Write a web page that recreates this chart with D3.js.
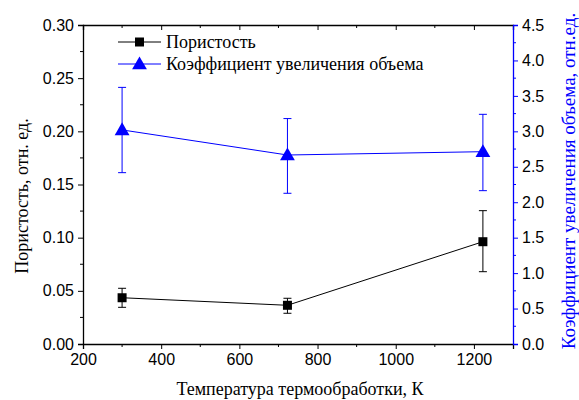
<!DOCTYPE html>
<html><head><meta charset="utf-8">
<script src="https://cdn.jsdelivr.net/npm/d3@7"></script>
<style>body{margin:0;background:#fff}</style>
</head><body>
<svg id="c" width="579" height="400"></svg>
<script>
const temps = [300, 723, 1223];
const porosity = [0.0435, 0.0364, 0.0962];
const porosityErrLow = [0.0345, 0.0289, 0.0680];
const porosityErrHigh = [0.0524, 0.0430, 0.1254];
const volume = [3.02, 2.666, 2.713];
const volumeErrLow = [2.417, 2.126, 2.163];
const volumeErrHigh = [3.62, 3.18, 3.24];
const xTicks = [200, 400, 600, 800, 1000, 1200];
const yLeftTicks = [0, 0.05, 0.10, 0.15, 0.20, 0.25, 0.30];
const yRightTicks = [0, 0.5, 1, 1.5, 2, 2.5, 3, 3.5, 4, 4.5];
const legendLabels = ["Пористость", "Коэффициент увеличения объема"];
const xTitle = "Температура термообработки, К";
const yLeftTitle = "Пористость, отн. ед.";
const yRightTitle = "Коэффициент увеличения объема, отн.ед.";

const svg = d3.select("#c");
const L = 83, R = 513, T = 25, B = 344;
const blue = "#0000ff";
const x = d3.scaleLinear().domain([200, 1300]).range([L, R]);
const yL = d3.scaleLinear().domain([0, 0.30]).range([B, T]);
const yR = d3.scaleLinear().domain([0, 4.5]).range([B, T]);
const sans = "'Liberation Sans', Arial, sans-serif";
const serif = "'Liberation Serif', 'Times New Roman', serif";

function styleAxis(g, color, fs) {
  g.selectAll("path").attr("stroke", color).attr("stroke-width", 1.3);
  g.selectAll("line").attr("stroke", color).attr("stroke-width", 1);
  g.selectAll("text").attr("fill", color).attr("font-family", sans).attr("font-size", fs);
}
const xMinor = d3.range(300, 1300, 200);
// bottom axis
const gx = svg.append("g").attr("transform", `translate(0,${B})`)
  .call(d3.axisBottom(x).tickValues(xTicks).tickSize(5).tickPadding(5).tickFormat(d3.format("d")));
styleAxis(gx, "#000", 16);
gx.selectAll(".minor").data(xMinor).enter().append("line").attr("class","minor")
  .attr("x1", d=>x(d)).attr("x2", d=>x(d)).attr("y1", 0).attr("y2", 3).attr("stroke", "#000");
// top axis
const gt = svg.append("g").attr("transform", `translate(0,${T})`)
  .call(d3.axisTop(x).tickValues(xTicks).tickSize(-5).tickFormat(""));
styleAxis(gt, "#000", 16);
gt.selectAll(".minor").data(xMinor).enter().append("line").attr("class","minor")
  .attr("x1", d=>x(d)).attr("x2", d=>x(d)).attr("y1", 0).attr("y2", 3).attr("stroke", "#000");
// left axis
const gl = svg.append("g").attr("transform", `translate(${L},0)`)
  .call(d3.axisLeft(yL).tickValues(yLeftTicks).tickSize(5).tickPadding(4).tickFormat(d3.format(".2f")));
styleAxis(gl, "#000", 16);
const yLMinor = d3.range(0.025, 0.30, 0.05);
gl.selectAll(".minor").data(yLMinor).enter().append("line").attr("class","minor")
  .attr("x1", -3).attr("x2", 0).attr("y1", d=>yL(d)).attr("y2", d=>yL(d)).attr("stroke", "#000");
// right axis
const gr = svg.append("g").attr("transform", `translate(${R},0)`)
  .call(d3.axisRight(yR).tickValues(yRightTicks).tickSize(5).tickPadding(4).tickFormat(d3.format(".1f")));
styleAxis(gr, blue, 16);
gr.selectAll("text").attr("fill", "#000");
const yRMinor = d3.range(0.25, 4.5, 0.5);
gr.selectAll(".minor").data(yRMinor).enter().append("line").attr("class","minor")
  .attr("x1", 0).attr("x2", 3).attr("y1", d=>yR(d)).attr("y2", d=>yR(d)).attr("stroke", blue);

const pData = temps.map((t,i)=>({t, v:porosity[i], lo:porosityErrLow[i], hi:porosityErrHigh[i]}));
const vData = temps.map((t,i)=>({t, v:volume[i], lo:volumeErrLow[i], hi:volumeErrHigh[i]}));

function drawErr(data, y, color) {
  const g = svg.append("g");
  data.forEach(d => {
    g.append("line").attr("x1", x(d.t)).attr("x2", x(d.t)).attr("y1", y(d.lo)).attr("y2", y(d.hi)).attr("stroke", color).attr("stroke-width", 1);
    [d.lo, d.hi].forEach(v => g.append("line").attr("x1", x(d.t)-4).attr("x2", x(d.t)+4).attr("y1", y(v)).attr("y2", y(v)).attr("stroke", color).attr("stroke-width", 1));
  });
}
drawErr(pData, yL, "#000");
drawErr(vData, yR, blue);

svg.append("path").datum(pData).attr("fill","none").attr("stroke","#000").attr("stroke-width",1)
  .attr("d", d3.line().x(d=>x(d.t)).y(d=>yL(d.v)));
svg.append("path").datum(vData).attr("fill","none").attr("stroke",blue).attr("stroke-width",1)
  .attr("d", d3.line().x(d=>x(d.t)).y(d=>yR(d.v)));

const sq = d3.symbol().type(d3.symbolSquare).size(81);
const tri = d3.symbol().type(d3.symbolTriangle).size(95);
svg.selectAll(".sq").data(pData).enter().append("path")
  .attr("d", sq).attr("transform", d=>`translate(${x(d.t)},${yL(d.v)})`).attr("fill","#000");
svg.selectAll(".tri").data(vData).enter().append("path")
  .attr("d", tri).attr("transform", d=>`translate(${x(d.t)},${yR(d.v)+1})`).attr("fill",blue);

// legend
const leg = svg.append("g");
const legItems = [{c:"#000", s:sq, y:42}, {c:blue, s:tri, y:64}];
legItems.forEach((it,i) => {
  leg.append("line").attr("x1", 118).attr("x2", 161).attr("y1", it.y).attr("y2", it.y).attr("stroke", it.c).attr("stroke-width", 1);
  leg.append("path").attr("d", it.s).attr("transform", `translate(139.5,${it.y + (i?1:0)})`).attr("fill", it.c);
  leg.append("text").attr("x", 166).attr("y", it.y + 6).text(legendLabels[i])
    .attr("font-family", serif).attr("font-size", 18).attr("fill", "#000");
});

// titles
svg.append("text").attr("x", 300).attr("y", 395).attr("text-anchor","middle")
  .attr("font-family", serif).attr("font-size", 18).text(xTitle);
svg.append("text").attr("transform", `translate(28,196) rotate(-90)`).attr("text-anchor","middle")
  .attr("font-family", serif).attr("font-size", 18).text(yLeftTitle);
svg.append("text").attr("transform", `translate(575,181) rotate(-90)`).attr("text-anchor","middle")
  .attr("font-family", serif).attr("font-size", 19).attr("fill", blue).text(yRightTitle);
</script>
</body></html>
